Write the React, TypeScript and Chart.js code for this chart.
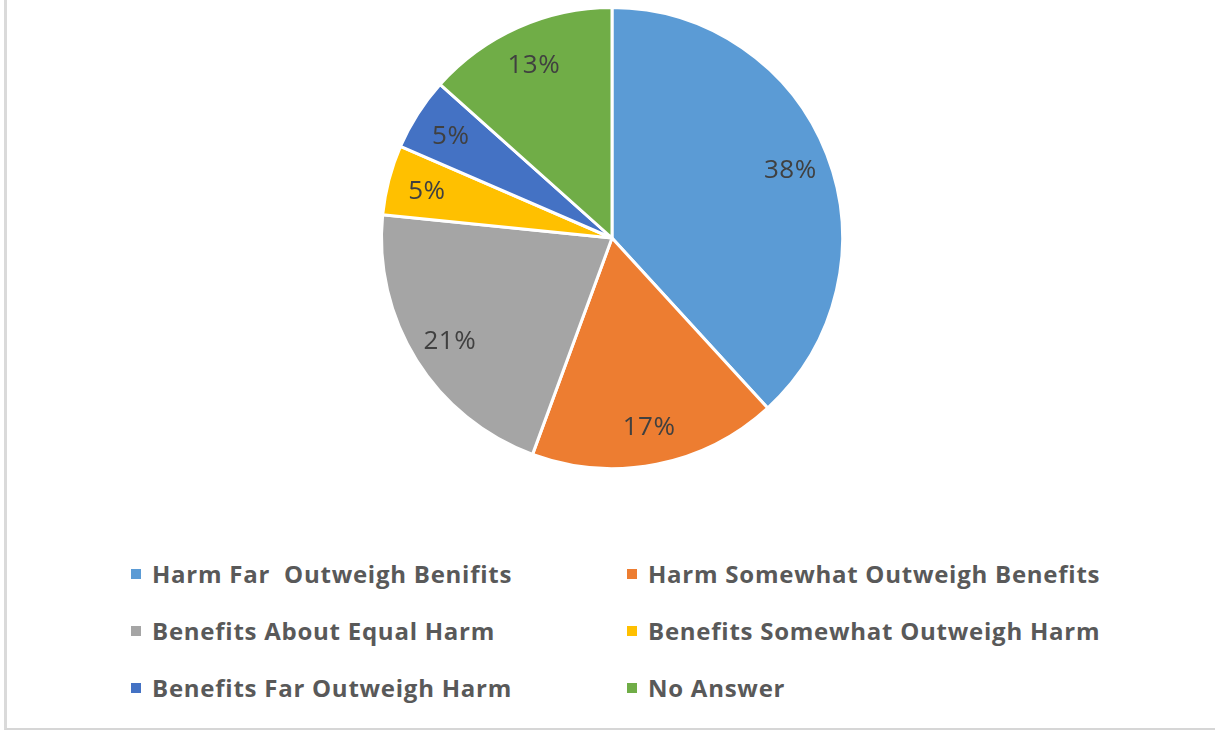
import React, { useEffect, useRef } from 'react';
import { Chart, registerables } from 'chart.js';

Chart.register(...registerables);

const categories = [
  'Harm Far  Outweigh Benifits',
  'Harm Somewhat Outweigh Benefits',
  'Benefits About Equal Harm',
  'Benefits Somewhat Outweigh Harm',
  'Benefits Far Outweigh Harm',
  'No Answer',
];
const shares = [38.2, 17.4, 21.0, 4.9, 5.1, 13.4];
const sliceColors = ['#5B9BD5', '#ED7D31', '#A5A5A5', '#FFC000', '#4472C4', '#70AD47'];

const labelPlugin = {
  id: 'sliceLabels',
  afterDatasetsDraw(chart: any) {
    const ctx = chart.ctx;
    const meta = chart.getDatasetMeta(0);
    const data = chart.data.datasets[0].data as number[];
    const total = data.reduce((a, b) => a + b, 0);
    ctx.save();
    ctx.font = '26px "Open Sans"';
    (ctx as any).letterSpacing = '0.5px';
    ctx.fillStyle = '#404040';
    ctx.textAlign = 'center';
    ctx.textBaseline = 'middle';
    meta.data.forEach((arc: any, i: number) => {
      const p = arc.getProps(['x', 'y', 'startAngle', 'endAngle', 'outerRadius'], true);
      const mid = (p.startAngle + p.endAngle) / 2;
      const r = p.outerRadius * 0.83;
      ctx.fillText(Math.round((data[i] / total) * 100) + '%', p.x + Math.cos(mid) * r, p.y + Math.sin(mid) * r + 2);
    });
    ctx.restore();
  },
};

export default function App() {
  const canvasRef = useRef<HTMLCanvasElement | null>(null);

  useEffect(() => {
    if (!canvasRef.current) return;
    const chart = new Chart(canvasRef.current, {
      type: 'pie',
      data: {
        labels: categories,
        datasets: [
          {
            data: shares,
            backgroundColor: sliceColors,
            borderColor: '#ffffff',
            borderWidth: 3,
          },
        ],
      },
      options: {
        animation: false,
        responsive: true,
        maintainAspectRatio: false,
        layout: { padding: { left: 9, right: 0, top: 6, bottom: 6 } },
        plugins: {
          legend: { display: false },
          tooltip: { enabled: false },
        },
      },
      plugins: [labelPlugin],
    });
    return () => chart.destroy();
  }, []);

  const colLeft = [131, 627];
  const rowCenter = [574, 631, 688];

  return (
    <div style={{ position: 'fixed', inset: 0, overflow: 'hidden', background: '#ffffff' }}>
      <div
        style={{
          position: 'absolute',
          left: 4,
          top: -10,
          right: -10,
          bottom: 1,
          borderLeft: '3px solid #dadada',
          borderBottom: '2px solid #d6d6d6',
        }}
      />
      <div style={{ position: 'absolute', left: 0, top: 0, width: 1215, height: 476 }}>
        <canvas ref={canvasRef} />
      </div>
      {categories.map((c, i) => (
        <div
          key={c}
          style={{
            position: 'absolute',
            left: colLeft[i % 2],
            top: rowCenter[Math.floor(i / 2)] - 16,
            height: 30,
            display: 'flex',
            alignItems: 'center',
            whiteSpace: 'pre',
            fontFamily: '"Open Sans", sans-serif',
            fontWeight: 700,
            fontSize: 24,
            letterSpacing: 0.75,
            fontVariantLigatures: 'none',
            color: '#595959',
          }}
        >
          <span style={{ display: 'inline-block', width: 10, height: 10, background: sliceColors[i], marginRight: 11, marginTop: 2 }} />
          <span>{c}</span>
        </div>
      ))}
    </div>
  );
}
